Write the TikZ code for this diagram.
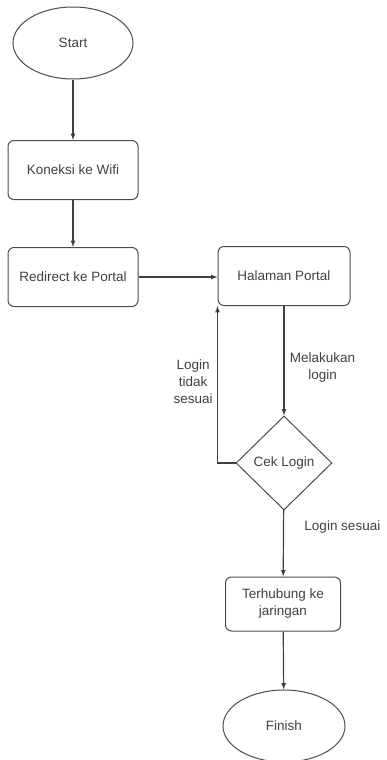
\documentclass[tikz,border=0pt]{standalone}
\usepackage{fontspec}
\setmainfont{Liberation Sans}
\usetikzlibrary{shapes.geometric, arrows}

\begin{document}
\begin{tikzpicture}[
						x=1pt, y=-1pt,
						every node/.style={font=\fontsize{13.5}{17}\selectfont, text=black!75},
						terminal/.style={draw=black!70, line width=1pt, ellipse, minimum width=120pt, minimum height=72pt, inner sep=0pt},
						process/.style={draw=black!70, line width=1pt, rounded corners=6pt, minimum width=130pt, minimum height=59pt, align=center},
						decision/.style={draw=black!70, line width=1pt, diamond, minimum width=96pt, minimum height=94pt, inner sep=0pt},
						flow/.style={draw=black!75, line width=1.2pt, -latex}
				]
    \useasboundingbox (0,0) rectangle (386,760);

    \node[terminal] (Start) at (73,43) {Start};
    \node[process] (Koneksi) at (73,170) {Koneksi ke Wifi};
    \node[process] (Redirect) at (73,277) {Redirect ke Portal};
    \node[process, minimum width=132pt] (Halaman) at (284,276) {Halaman Portal};
    \node[decision] (Cek) at (284,463) {Cek Login};
    \node[process, minimum width=115pt, minimum height=54pt] (Terhubung) at (283,604) {Terhubung ke\\jaringan};
    \node[terminal, minimum width=122pt] (Finish) at (284,726) {Finish};

    % Flow arrows
    \draw[flow] (Start) -- (Koneksi);
    \draw[flow] (Koneksi) -- (Redirect);
    \draw[flow] (Redirect.east) -- (Redirect.east -| Halaman.west);
    \draw[flow] (Halaman) -- node[pos=0.56, right, align=center, xshift=2pt] (Melakukan) {Melakukan\\login} (Cek);
    \draw[flow] (Cek.west) -| node[pos=0.76, left, align=center, xshift=-1pt] (Tidak) {Login\\tidak\\sesuai} (Halaman.south west);
    \draw[flow] (Cek) -- node[pos=0.25, right, xshift=17pt] (Sesuai) {Login sesuai} (Terhubung);
    \draw[flow] (Terhubung) -- (Finish);

  \end{tikzpicture}
\end{document}
